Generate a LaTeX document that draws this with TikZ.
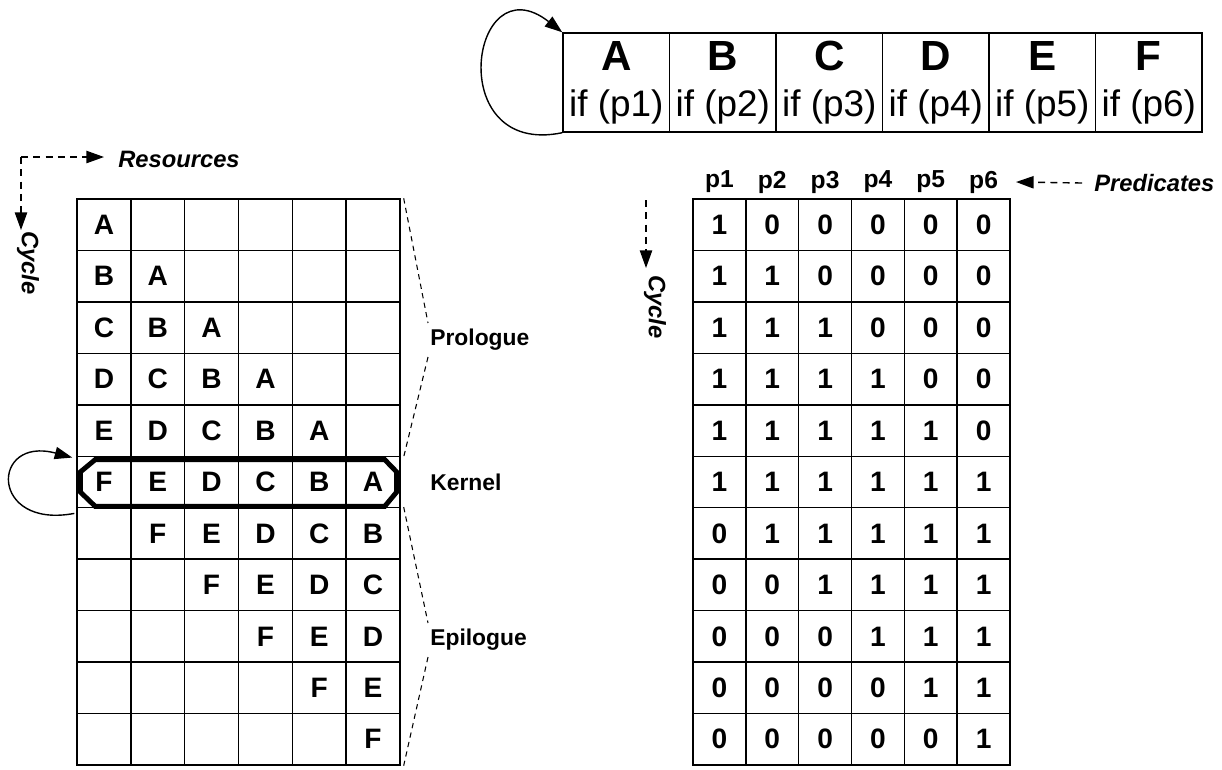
\documentclass[tikz,border=0pt]{standalone}
\usepackage{fontspec}
\setmainfont{Liberation Sans}
\usetikzlibrary{arrows.meta,positioning,calc}
\tikzset{
  opbox/.style={draw=black, line width=0.8pt, minimum width=2.13cm, minimum height=1.98cm, inner sep=0pt, align=center, font=\fontsize{21}{24}\selectfont},
  lcell/.style={draw=black, line width=0.8pt, minimum width=1.0767cm, minimum height=1.029cm, inner sep=0pt, font=\bfseries\fontsize{16}{19}\selectfont},
  rcell/.style={lcell, minimum width=1.0567cm},
  phead/.style={inner sep=1pt, font=\bfseries\fontsize{14}{16}\selectfont},
  anno/.style={inner sep=0pt, font=\bfseries\itshape\fontsize{13.5}{15}\selectfont},
  phase/.style={inner sep=0pt, anchor=west, font=\bfseries\fontsize{13}{15}\selectfont},
  dasharrow/.style={-{Triangle[length=10pt,width=7pt]}, line width=0.8pt, dash pattern=on 4pt off 3pt},
  looparrow/.style={-{Triangle[length=10pt,width=7pt]}, line width=0.8pt},
  brace/.style={line width=0.6pt, dash pattern=on 3pt off 2.5pt},
  kernelline/.style={line width=2.8pt, line join=miter}
}

\begin{document}
\begin{tikzpicture}[x=0.02cm, y=-0.02cm]
\useasboundingbox (0,0) rectangle (1222,769);

\foreach \c/\op in {1/A,2/B,3/C,4/D,5/E,6/F} {
  \node[opbox] (T-\c) at ({563+(\c-0.5)*106.5},82.5) {{\bfseries\fontsize{24}{26}\selectfont \op}\\[2pt]if (p\c)};
}
\draw[looparrow] (T-1.south west) .. controls +(-120,25) and +(-92,-72) .. (T-1.north west);

\foreach \r in {1,...,11} {
  \foreach \c in {1,...,6} {
    \pgfmathtruncatemacro{\k}{\r-\c+1}
    \node[lcell] (L-\r-\c) at ({77+(\c-0.5)*53.83},{199+(\r-0.5)*51.45}) {\ifcase\k\or A\or B\or C\or D\or E\or F\fi};
    \node[rcell] (R-\r-\c) at ({693+(\c-0.5)*52.83},{199+(\r-0.5)*51.45}) {\ifnum\k<1 0\else\ifnum\k>6 0\else 1\fi\fi};
  }
}

\foreach \c in {1,...,6} {
  \node[phead] (P-\c) at ({693+(\c-0.5)*52.83},182) {p\c};
}

\draw[kernelline] ($(L-6-1.north west)+(19,4)$) -- ($(L-6-6.north east)+(-16,4)$)
  -- ($(L-6-6.east)+(-4,-10)$) -- ($(L-6-6.east)+(-4,10)$)
  -- ($(L-6-6.south east)+(-16,-2)$) -- ($(L-6-1.south west)+(19,-2)$)
  -- ($(L-6-1.west)+(4,10)$) -- ($(L-6-1.west)+(4,-10)$) -- cycle;
\draw[looparrow] ($(L-6-1.south west)+(-2,5)$) .. controls +(-85,16) and +(-82,-22) .. ($(L-6-1.north west)+(-4,2)$);

\node[phase] (pro) at (430,340) {Prologue};
\node[phase] (ker) at (430,482) {Kernel};
\node[phase] (epi) at (430,640) {Epilogue};
\draw[brace] ($(L-1-6.north east)+(3,0)$) -- ($(pro.north west)+(-2,-6)$);
\draw[brace] ($(pro.south west)+(-2,6)$) -- ($(L-5-6.south east)+(3,0)$);
\draw[brace] ($(L-7-6.north east)+(3,0)$) -- ($(epi.north west)+(-2,-6)$);
\draw[brace] ($(epi.south west)+(-2,6)$) -- ($(L-11-6.south east)+(3,0)$);

\coordinate (rcorner) at (21,157);
\node[anno, anchor=west] (res) at (118,159) {Resources};
\coordinate (rtip) at (104,157);
\coordinate (ctip) at (21,230);
\draw[dasharrow] (rcorner) -- (rtip);
\draw[dasharrow] (rcorner) -- (ctip);
\node[anno, rotate=-90] (cycl) at (28,263) {Cycle};

\node[anno, anchor=west, outer sep=7pt] (pred) at (1082,183) {Predicates};
\coordinate (ptip) at (1016,182);
\draw[dasharrow] (pred.west) -- (ptip);
\coordinate (ccorner) at (646,200);
\coordinate (cctip) at (646,268);
\draw[dasharrow] (ccorner) -- (cctip);
\node[anno, rotate=-90] (cycr) at (655,307) {Cycle};
\end{tikzpicture}
\end{document}
